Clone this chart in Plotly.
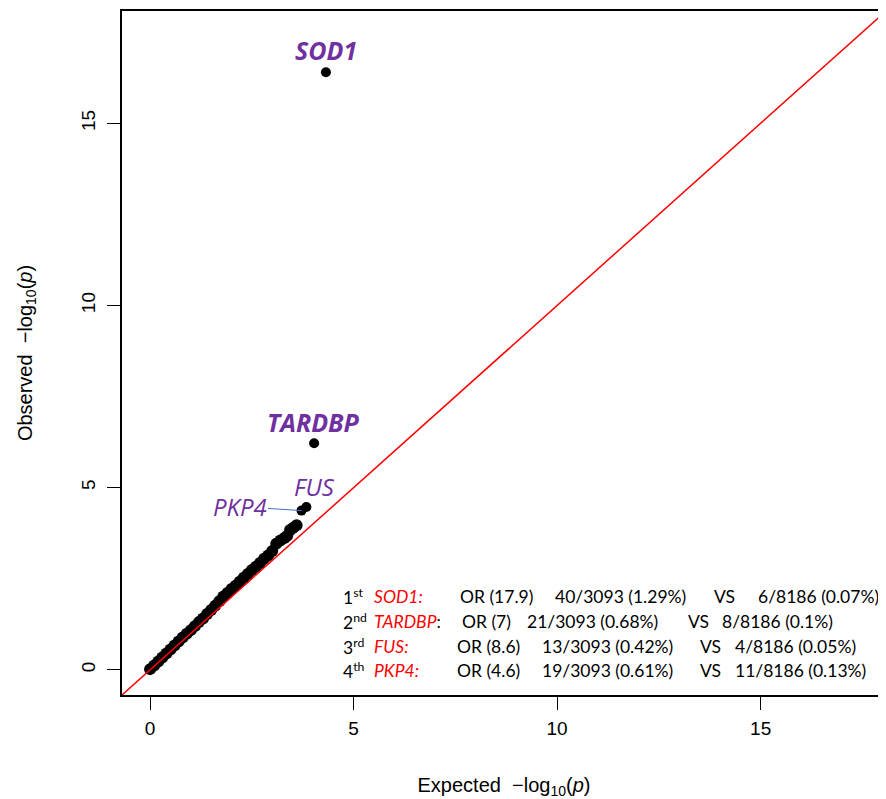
import plotly.graph_objects as go

# ---------------- data ----------------
expected = [0.0, 0.1, 0.2, 0.3, 0.4, 0.5, 0.6, 0.7, 0.8, 0.9,
            1.0, 1.1, 1.2, 1.3, 1.4, 1.5, 1.6, 1.7, 1.8, 1.9,
            2.0, 2.1, 2.2, 2.3, 2.4, 2.5, 2.6, 2.7, 2.8, 2.9,
            3.0, 3.1, 3.2, 3.3, 3.37, 3.44, 3.52, 3.60]
observed = [0.02, 0.12, 0.23, 0.34, 0.45, 0.56, 0.67, 0.78, 0.89, 0.99,
            1.09, 1.20, 1.31, 1.41, 1.53, 1.64, 1.76, 1.88, 2.01, 2.11,
            2.22, 2.31, 2.42, 2.53, 2.63, 2.74, 2.83, 2.93, 3.05, 3.14,
            3.26, 3.46, 3.55, 3.62, 3.68, 3.84, 3.90, 3.97]

genes = ["SOD1", "TARDBP", "FUS", "PKP4"]
gene_expected = [4.32, 4.03, 3.84, 3.72]
gene_observed = [16.4, 6.22, 4.47, 4.37]

ranks = ["1<sup>st</sup>", "2<sup>nd</sup>", "3<sup>rd</sup>", "4<sup>th</sup>"]
odds_ratios = ["17.9", "7", "8.6", "4.6"]
case_counts = ["40/3093 (1.29%)", "21/3093 (0.68%)", "13/3093 (0.42%)", "19/3093 (0.61%)"]
control_counts = ["6/8186 (0.07%)", "8/8186 (0.1%)", "4/8186 (0.05%)", "11/8186 (0.13%)"]

x_ticks = [0, 5, 10, 15]
y_ticks = [0, 5, 10, 15]

# ---------------- layout constants ----------------
OFF = 8                      # page body margin of the browser
W, H = 886 - OFF, 799 - OFF
ML, MR, MT, MB = 114, 0, 3, 104
PW, PH = W - ML - MR, H - MT - MB
AX_MIN, AX_MAX = -0.69, 18.08

PURPLE = "#7030A0"
TABLE_FONT = "Lato"
AXIS_FONT = "Liberation Sans, Arial, sans-serif"


def px_to_paper_x(px):
    return (px - OFF - ML) / PW


def px_to_paper_y(py):
    return (H - MB - (py - OFF)) / PH


fig = go.Figure()

fig.add_trace(go.Scatter(
    x=expected, y=observed,
    mode="markers",
    marker=dict(color="black", size=12, line=dict(width=0)),
    hoverinfo="x+y", showlegend=False,
))
fig.add_trace(go.Scatter(
    x=gene_expected, y=gene_observed,
    mode="markers",
    marker=dict(color="black", size=10, line=dict(width=0)),
    hoverinfo="x+y", showlegend=False,
))

fig.add_trace(go.Scatter(
    x=[AX_MIN, AX_MAX], y=[AX_MIN, AX_MAX],
    mode="lines", line=dict(color="#FF0000", width=1.5),
    hoverinfo="skip", showlegend=False,
))

annotations = []

# gene labels
label_styles = [
    dict(bold=True, xshift=0, yshift=22),
    dict(bold=True, xshift=-1, yshift=21),
    dict(bold=False, xshift=8, yshift=20),
]
for i in range(3):
    st = label_styles[i]
    txt = f"<i>{genes[i]}</i>"
    if st["bold"]:
        txt = f"<b>{txt}</b>"
    annotations.append(dict(
        x=gene_expected[i], y=gene_observed[i], xref="x", yref="y",
        text=txt, showarrow=False, xanchor="center", yanchor="middle",
        xshift=st["xshift"], yshift=st["yshift"],
        font=dict(family="Open Sans", size=25 if st["bold"] else 24, color=PURPLE),
    ))

# PKP4 with connector line
annotations.append(dict(
    x=gene_expected[3], y=gene_observed[3], xref="x", yref="y",
    text=f"<i>{genes[3]}</i>", showarrow=True, arrowhead=0, arrowwidth=1,
    arrowcolor="#4472C4", ax=-62, ay=-4, standoff=0,
    font=dict(family="Open Sans", size=24, color=PURPLE),
))

# summary table (positions in reference-picture pixels)
row_y = [596, 621, 646, 670]
col_x = [
    [341, 372, 458, 553, 712, 756],
    [341, 372, 460, 525, 686, 720],
    [341, 372, 455, 540, 698, 733],
    [341, 372, 455, 540, 698, 733],
]
for r in range(4):
    if r == 1:
        gene_txt = f"<span style='color:#FF0000'><i>{genes[r]}</i></span>:"
    else:
        gene_txt = f"<span style='color:#FF0000'><i>{genes[r]}:</i></span>"
    chunks = [
        ranks[r],
        gene_txt,
        f"OR ({odds_ratios[r]})",
        case_counts[r],
        "VS",
        control_counts[r],
    ]
    for c, chunk in enumerate(chunks):
        annotations.append(dict(
            x=px_to_paper_x(col_x[r][c]), y=px_to_paper_y(row_y[r]),
            xref="paper", yref="paper", xanchor="left", yanchor="middle",
            text=chunk, showarrow=False,
            font=dict(family=TABLE_FONT, size=17.5, color="black"),
        ))

fig.update_layout(
    width=W, height=H,
    margin=dict(l=ML, r=MR, t=MT, b=MB, autoexpand=False),
    plot_bgcolor="white", paper_bgcolor="white",
    showlegend=False,
    annotations=annotations,
    font=dict(family=AXIS_FONT, color="black"),
    xaxis=dict(
        range=[AX_MIN, AX_MAX], tickvals=x_ticks, ticks="outside", ticklen=13,
        tickwidth=1.3, tickcolor="black", showgrid=False, zeroline=False,
        showline=True, linecolor="black", linewidth=1.5, mirror=True,
        tickfont=dict(family=AXIS_FONT, size=19), ticklabelstandoff=2,
        title=dict(text="Expected  \u2212log<sub>10</sub>(<i>p</i>)",
                   font=dict(family=AXIS_FONT, size=20), standoff=41),
        automargin=False,
    ),
    yaxis=dict(
        range=[AX_MIN, AX_MAX], tickvals=y_ticks, ticks="outside", ticklen=13,
        tickwidth=1.3, tickcolor="black", showgrid=False, zeroline=False,
        showline=True, linecolor="black", linewidth=1.5, mirror=False,
        tickangle=-90, tickfont=dict(family=AXIS_FONT, size=19), ticklabelstandoff=5,
        title=dict(text="Observed  \u2212log<sub>10</sub>(<i>p</i>)",
                   font=dict(family=AXIS_FONT, size=20), standoff=40),
        automargin=False,
    ),
)

fig.write_html("out.html")
